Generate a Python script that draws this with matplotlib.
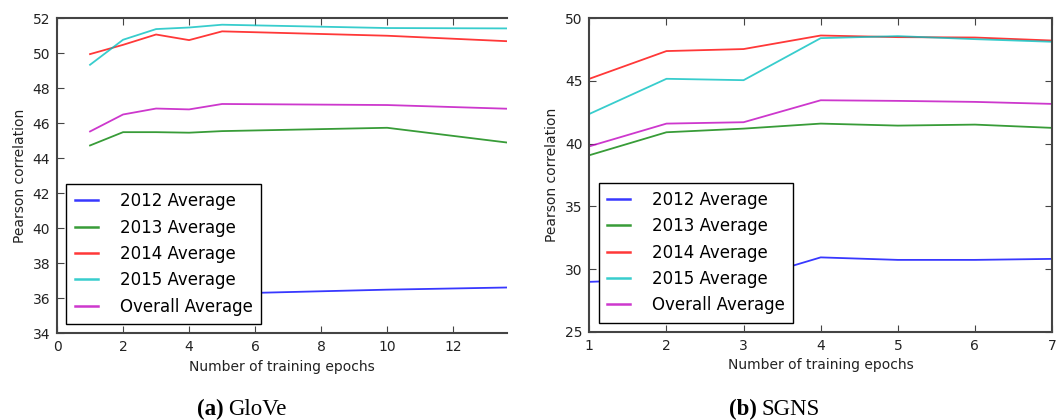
import matplotlib
matplotlib.use('Agg')
from matplotlib import pyplot as plt

# GloVe (left panel); last point lies past the cropped right edge
glove_epochs = [1, 2, 3, 4, 5, 10, 15]
glove_2012 = [35.0, 35.7, 36.0, 36.1, 36.25, 36.48, 36.65]
glove_2013 = [44.72, 45.48, 45.48, 45.45, 45.54, 45.73, 44.57]
glove_2014 = [49.94, 50.47, 51.06, 50.74, 51.24, 50.99, 50.56]
glove_2015 = [49.33, 50.76, 51.37, 51.46, 51.62, 51.43, 51.40]
glove_overall = [45.52, 46.49, 46.83, 46.78, 47.09, 47.03, 46.74]

# SGNS (right panel)
sgns_epochs = [1, 2, 3, 4, 5, 6, 7]
sgns_2012 = [28.98, 29.2, 29.1, 30.93, 30.73, 30.73, 30.81]
sgns_2013 = [39.07, 40.9, 41.19, 41.59, 41.43, 41.51, 41.25]
sgns_2014 = [45.16, 47.37, 47.53, 48.61, 48.48, 48.45, 48.21]
sgns_2015 = [42.36, 45.16, 45.05, 48.4, 48.56, 48.32, 48.11]
sgns_overall = [39.78, 41.59, 41.7, 43.45, 43.4, 43.32, 43.16]

labels = ['2012 Average', '2013 Average', '2014 Average', '2015 Average', 'Overall Average']
colors = ['b', 'g', 'r', 'c', 'm']

plt.rcParams['font.family'] = ['DejaVu Sans']
plt.rcParams['font.size'] = 10

fig = plt.figure(figsize=(10.6, 4.2), dpi=100)
ax1 = fig.add_axes([0.0538, 0.207, 0.4245, 0.75])
ax2 = fig.add_axes([0.556, 0.21, 0.4365, 0.747])


def draw(ax, x, series):
    for y, label, color in zip(series, labels, colors):
        ax.plot(x, y, color=color, alpha=0.78, linewidth=1.3, label=label)
    ax.set_xlabel('Number of training epochs', fontsize=10, color='#222222')
    ax.set_ylabel('Pearson correlation', fontsize=10, color='#222222')
    ax.tick_params(direction='in', length=5, width=0.8, top=True, labelsize=10,
                   labelcolor='#222222', color='#444444', pad=5)
    for spine in ax.spines.values():
        spine.set_color('#444444')
        spine.set_linewidth(1.5)
    leg = ax.legend(loc='lower left', fontsize=12, frameon=True, fancybox=False,
                    framealpha=1.0, handlelength=1.4, handletextpad=1.3,
                    labelspacing=0.5, borderpad=0.5, borderaxespad=0.55)
    leg.get_frame().set_edgecolor('black')
    leg.get_frame().set_linewidth(1.0)
    for h in leg.get_lines():
        h.set_linewidth(1.8)


draw(ax1, glove_epochs, [glove_2012, glove_2013, glove_2014, glove_2015, glove_overall])
ax1.set_xlim(0, 13.63)
ax1.set_ylim(34, 52)
ax1.set_xticks([0, 2, 4, 6, 8, 10, 12])
ax1.set_yticks(range(34, 53, 2))
ax1.spines['right'].set_visible(False)
ax1.tick_params(right=False)

draw(ax2, sgns_epochs, [sgns_2012, sgns_2013, sgns_2014, sgns_2015, sgns_overall])
ax2.set_xlim(1, 7)
ax2.set_ylim(25, 50)
ax2.set_yticks(range(25, 51, 5))
ax2.tick_params(right=True)

# captions under each panel
for cx, tag, name in [(0.211, '(a)', 'GloVe'), (0.714, '(b)', 'SGNS')]:
    fig.text(cx, 0.012, tag, fontsize=16.5, fontweight='bold',
             family='Liberation Serif', va='baseline', ha='right')
    fig.text(cx + 0.004, 0.012, name, fontsize=16.5, family='Liberation Serif',
             va='baseline', ha='left')

fig.savefig('out.png', dpi=100)
